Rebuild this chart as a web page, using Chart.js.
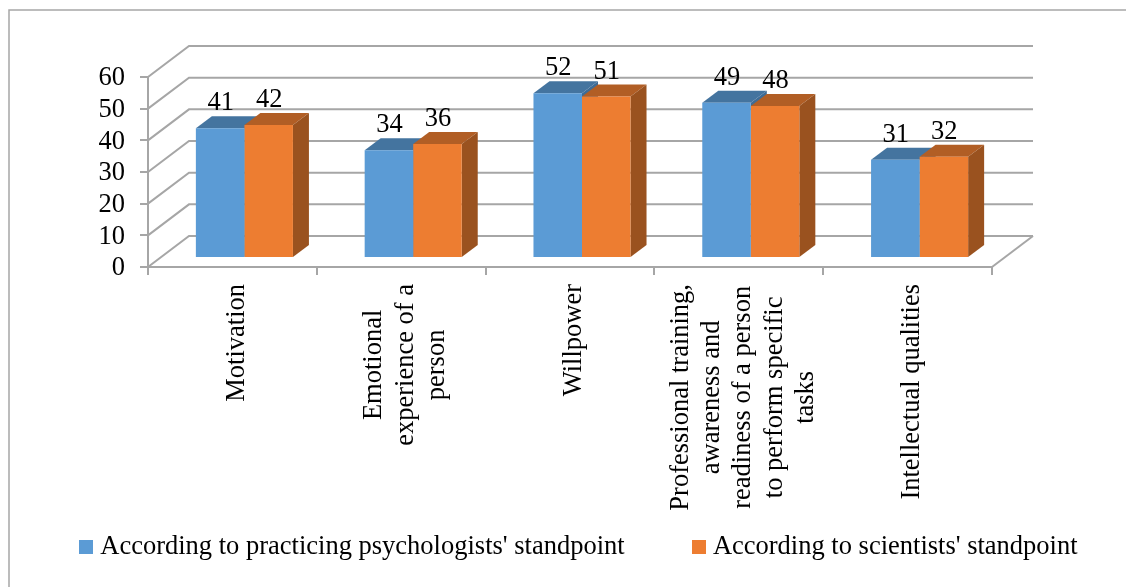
<!DOCTYPE html>
<html><head><meta charset="utf-8">
<style>html,body{margin:0;padding:0;background:#fff}canvas{display:block}</style>
<script src="https://cdn.jsdelivr.net/npm/chart.js@4/dist/chart.umd.min.js"></script>
</head><body>
<div style="width:1126px;height:587px"><canvas id="c" width="1126" height="587"></canvas></div>
<script>
const categories = [
  "Motivation",
  ["Emotional", "experience of a", "person"],
  "Willpower",
  ["Professional training,", "awareness and", "readiness of a person", "to perform specific", "tasks"],
  "Intellectual qualities"
];
const practitioners = [41, 34, 52, 49, 31];
const scientists = [42, 36, 51, 48, 32];
const seriesNames = ["According to practicing psychologists' standpoint", "According to scientists' standpoint"];
const yTicks = [0, 10, 20, 30, 40, 50, 60];

const FONT = "'Liberation Serif','Times New Roman',serif";
const FONT_SIZE = 26.5;
const LABEL_LH = 1.18;
const GRID = '#A6A6A6';
const wall = {dx: 41, dy: -31};
const barShift = {dx: 12, dy: -9};
const barDepth = {dx: 16, dy: -12};
const faces = [
  {front: '#5B9BD5', top: '#44749F', side: '#3E6C96'},
  {front: '#ED7D31', top: '#B15E25', side: '#9A521F'}
];
const labelTop = 284;
const legendLeft = 12;
const legendTop = 461;

function square(color) {
  const k = document.createElement('canvas');
  k.width = 14; k.height = 14;
  const g = k.getContext('2d');
  g.fillStyle = color; g.fillRect(0, 0, 14, 14);
  return k;
}

const chart3d = {
  id: 'chart3d',
  beforeLayout(chart) {
    const lg = chart.legend;
    if (!lg._fitWrapped) {
      const fit = lg.fit;
      lg.fit = function () {
        this.maxWidth = 1300;   // keep both entries on one row
        fit.call(this);
        this.height = 72;
      };
      lg._fitWrapped = true;
    }
  },
  afterLayout(chart) {
    const lg = chart.legend;
    lg.left = legendLeft; lg.right = 1400;
    lg.top = legendTop;
  },
  beforeDraw(chart) {
    const {ctx, scales: {x, y}} = chart;
    ctx.save();
    ctx.strokeStyle = '#A6A6A6'; ctx.lineWidth = 1.5;
    ctx.beginPath(); ctx.moveTo(9, 587); ctx.lineTo(9, 10); ctx.lineTo(1126, 10); ctx.stroke();
    // centre the wrapped, rotated tick labels on their category
    x.getLabelItems().forEach(it => {
      if (it._centred) return;
      ctx.font = it.font.string;
      const lines = [].concat(it.label);
      const w = Math.max(...lines.map(s => ctx.measureText(s).width));
      it.options.textAlign = 'center';
      it.options.translation[1] = labelTop + w / 2;
      it.options.translation[0] += 4.5 - (lines.length - 1) / 2 * FONT_SIZE * LABEL_LH;
      it._centred = true;
    });
    y.getLabelItems().forEach(it => {
      if (it._nudged) return;
      it.options.translation[1] += 1.5;
      it._nudged = true;
    });
    ctx.restore();
  },
  beforeDatasetsDraw(chart) {
    const {ctx, chartArea: a, scales: {y}} = chart;
    ctx.save();
    ctx.strokeStyle = GRID; ctx.lineWidth = 2;
    yTicks.forEach(v => {
      const p = y.getPixelForValue(v);
      ctx.beginPath();
      ctx.moveTo(a.left, p);
      ctx.lineTo(a.left + wall.dx, p + wall.dy);
      ctx.lineTo(a.right + wall.dx, p + wall.dy);
      ctx.stroke();
    });
    const p0 = y.getPixelForValue(0);
    ctx.beginPath();
    ctx.moveTo(a.right, p0);
    ctx.lineTo(a.right + wall.dx, p0 + wall.dy);
    ctx.stroke();
    ctx.translate(barShift.dx, barShift.dy);
    const metas = [chart.getDatasetMeta(0), chart.getDatasetMeta(1)];
    metas[0].data.forEach((_, i) => {
      metas.forEach((m, s) => {
        const b = m.data[i].getProps(['x', 'y', 'base', 'width'], true);
        const l = b.x - b.width / 2, r = b.x + b.width / 2;
        ctx.fillStyle = faces[s].top;
        ctx.beginPath();
        ctx.moveTo(l, b.y); ctx.lineTo(l + barDepth.dx, b.y + barDepth.dy);
        ctx.lineTo(r + barDepth.dx, b.y + barDepth.dy); ctx.lineTo(r, b.y);
        ctx.closePath(); ctx.fill();
        ctx.fillStyle = faces[s].side;
        ctx.beginPath();
        ctx.moveTo(r, b.y); ctx.lineTo(r + barDepth.dx, b.y + barDepth.dy);
        ctx.lineTo(r + barDepth.dx, b.base + barDepth.dy); ctx.lineTo(r, b.base);
        ctx.closePath(); ctx.fill();
      });
    });
    ctx.restore();
  },
  beforeDatasetDraw(chart) {
    chart.ctx.save();
    chart.ctx.translate(barShift.dx, barShift.dy);
  },
  afterDatasetDraw(chart) {
    chart.ctx.restore();
  },
  afterDatasetsDraw(chart) {
    const {ctx} = chart;
    ctx.save();
    ctx.fillStyle = '#000';
    ctx.font = FONT_SIZE + 'px ' + FONT;
    ctx.textAlign = 'center';
    ctx.textBaseline = 'alphabetic';
    chart.data.datasets.forEach((ds, s) => {
      chart.getDatasetMeta(s).data.forEach((b, i) => {
        const p = b.getProps(['x', 'y'], true);
        ctx.fillText(String(ds.data[i]), p.x + barShift.dx + 0.5, p.y + barShift.dy - 18);
      });
    });
    ctx.restore();
  }
};

new Chart(document.getElementById('c'), {
  type: 'bar',
  data: {
    labels: categories,
    datasets: [
      {label: seriesNames[0], data: practitioners, backgroundColor: faces[0].front, pointStyle: square(faces[0].front)},
      {label: seriesNames[1], data: scientists, backgroundColor: faces[1].front, pointStyle: square(faces[1].front)}
    ]
  },
  options: {
    responsive: false,
    animation: false,
    devicePixelRatio: 1,
    layout: {padding: {left: 0, right: 0, top: 77, bottom: 0}},
    datasets: {bar: {categoryPercentage: 0.575, barPercentage: 1, borderWidth: 0}},
    scales: {
      x: {
        grid: {drawOnChartArea: false, color: GRID, lineWidth: 2, tickLength: 8, offset: true},
        border: {color: GRID, width: 2},
        ticks: {minRotation: 90, maxRotation: 90, autoSkip: false, color: '#000', padding: 8,
          font: {family: FONT, size: FONT_SIZE, lineHeight: LABEL_LH}},
        afterFit(s) { s.height = 248; }
      },
      y: {
        min: 0, max: 60,
        afterBuildTicks(s) { s.ticks = yTicks.map(v => ({value: v})); },
        grid: {drawOnChartArea: false, color: GRID, lineWidth: 2, tickLength: 8},
        border: {color: GRID, width: 2},
        ticks: {color: '#000', padding: 15, autoSkip: false, font: {family: FONT, size: FONT_SIZE}},
        afterFit(s) { s.width = 148; }
      },
      spacer: {
        axis: 'y', position: 'right', display: true,
        grid: {display: false}, border: {display: false}, ticks: {display: false},
        afterFit(s) { s.width = 134; }
      }
    },
    plugins: {
      tooltip: {enabled: false},
      legend: {
        position: 'bottom',
        align: 'start',
        labels: {
          usePointStyle: true, pointStyleWidth: 2, boxHeight: 14,
          color: '#000', padding: 73, font: {family: FONT, size: FONT_SIZE}
        }
      }
    }
  },
  plugins: [chart3d]
});
</script>
</body></html>
